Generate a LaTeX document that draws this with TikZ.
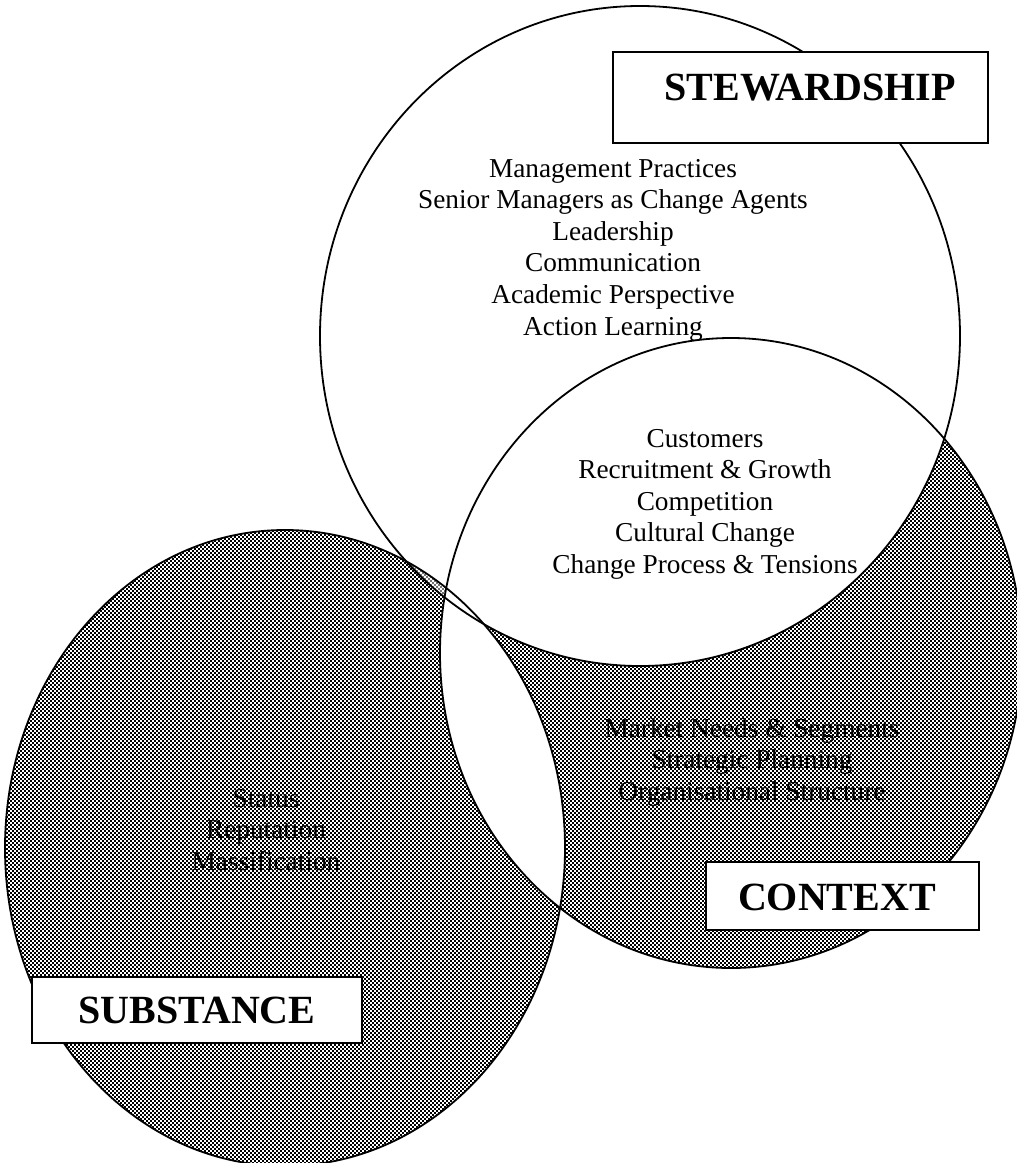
\documentclass[tikz,border=0pt]{standalone}
\usepackage{fontspec}
\setmainfont{Liberation Serif}
\usetikzlibrary{patterns}

% fine halftone screen used for the shaded areas
\pgfdeclarepatternformonly{halftone}{\pgfqpoint{0pt}{0pt}}{\pgfqpoint{4.4pt}{4.4pt}}{\pgfqpoint{4.4pt}{4.4pt}}{%
  \pgfpathrectangle{\pgfqpoint{0.1pt}{0.1pt}}{\pgfqpoint{2pt}{2pt}}%
  \pgfpathrectangle{\pgfqpoint{2.3pt}{2.3pt}}{\pgfqpoint{2pt}{2pt}}%
  \pgfusepath{fill}}

\begin{document}
\begin{tikzpicture}[x=1pt,y=-1pt,
  ring/.style={line width=1.8pt},
  tag/.style={draw, line width=2pt, fill=white, inner sep=0pt,
    font=\fontsize{40}{44}\selectfont\bfseries},
  list/.style={inner sep=0pt, anchor=base,
    font=\fontsize{27.3}{31.6}\selectfont}]

\useasboundingbox (0,0) rectangle (1017,1163);
\fill[white] (0,0) rectangle (1017,1163);

\begin{scope}
  \clip (0,0) rectangle (1017,1163);

  % shaded Substance and Context areas; their overlap stays white
  \fill[pattern=halftone, even odd rule]
    (285,848) ellipse [x radius=280pt, y radius=318pt]
    (731,653) ellipse [x radius=291pt, y radius=315pt];

  % Stewardship over Context is white, over Substance lighter
  \begin{scope}
    \clip (640,336) ellipse [x radius=320pt, y radius=330pt];
    \fill[white] (731,653) ellipse [x radius=291pt, y radius=315pt];
    \fill[white, opacity=0.45] (285,848) ellipse [x radius=280pt, y radius=318pt];
  \end{scope}

  % outlines of the three domains
  \draw[ring] (640,336) ellipse [x radius=320pt, y radius=330pt];
  \draw[ring] (731,653) ellipse [x radius=291pt, y radius=315pt];
  \draw[ring] (285,848) ellipse [x radius=280pt, y radius=318pt];

  % item lists
  \node[list] (stewitems) at (613,177) {\begin{tabular}[t]{@{}c@{}}
    Management Practices\\ Senior Managers as Change Agents\\ Leadership\\
    Communication\\ Academic Perspective\\ Action Learning\end{tabular}};
  \node[list] (sharedVitems) at (705,447) {\begin{tabular}[t]{@{}c@{}}
    Customers\\ Recruitment \& Growth\\ Competition\\ Cultural Change\\
    Change Process \& Tensions\end{tabular}};
  \node[list] (ctxitems) at (752,737) {\begin{tabular}[t]{@{}c@{}}
    Market Needs \& Segments\\ Strategic Planning\\ Organisational Structure\end{tabular}};
  \node[list] (subitems) at (266,807) {\begin{tabular}[t]{@{}c@{}}
    Status\\ Reputation\\ Massification\end{tabular}};

  % domain labels
  \node[tag, minimum width=375pt, minimum height=91pt, text height=28pt, text depth=23pt]
    (stew) at (800.5,97.5) {\hspace*{19pt}STEWARDSHIP};
  \node[tag, minimum width=273pt, minimum height=68pt, text height=28pt, text depth=0pt]
    (ctx) at (842.5,896) {CONTEXT\hspace*{11pt}};
  \node[tag, minimum width=330pt, minimum height=66pt, text height=26pt, text depth=0pt]
    (subst) at (197,1010) {SUBSTANCE};
\end{scope}
\end{tikzpicture}
\end{document}
